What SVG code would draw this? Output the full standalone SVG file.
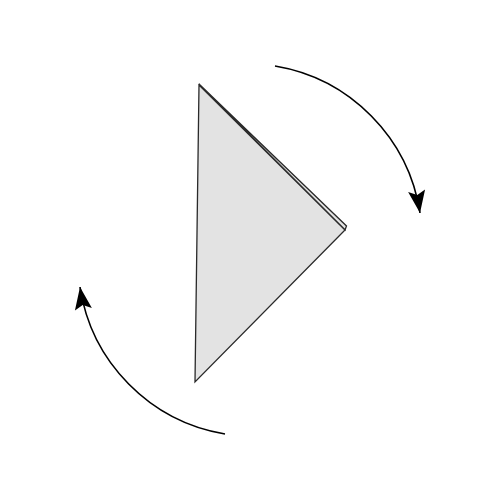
<svg xmlns="http://www.w3.org/2000/svg" width="500" height="500" viewBox="0 0 500 500">
<style>
.layer{fill:#e3e3e3;stroke:#2a2a2a;stroke-width:1.3;stroke-linejoin:miter}
.arc{fill:none;stroke:#000;stroke-width:1.6}
</style>
<defs>
<marker id="ah" markerUnits="userSpaceOnUse" markerWidth="30" markerHeight="30" viewBox="-24 -12 28 24" refX="0" refY="0" orient="auto">
<path d="M0,0 L-21,-8 L-17,0 L-21,8 Z" fill="#000"/>
</marker>
</defs>
<rect width="500" height="500" fill="#fff"/>
<g id="triangle">
<polygon class="layer" points="199,84 346.5,226 345,230"/>
<polygon class="layer" points="199,85 345,230 195,382"/>
</g>
<g id="connectors">
<path class="arc" d="M275,66 A176,176 0 0 1 420,213" marker-end="url(#ah)"/>
<path class="arc" d="M225,434 A176,176 0 0 1 80,287" marker-end="url(#ah)"/>
</g>
</svg>
